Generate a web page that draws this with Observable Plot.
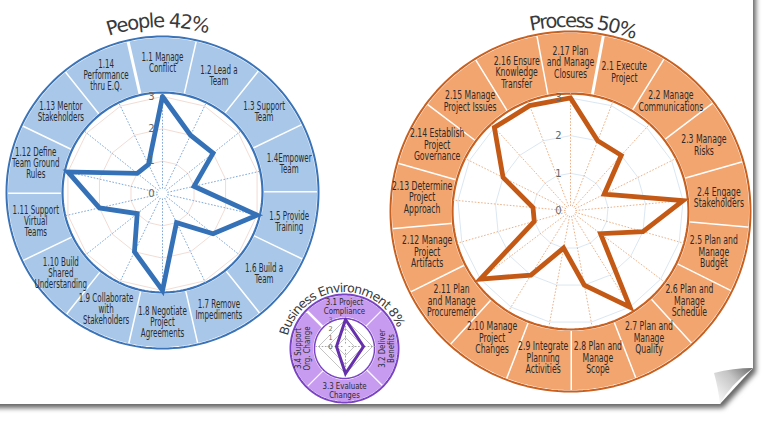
<!DOCTYPE html>
<html>
<head>
<meta charset="utf-8">
<script src="https://cdn.jsdelivr.net/npm/d3@7"></script>
<script src="https://cdn.jsdelivr.net/npm/@observablehq/plot@0.6"></script>
<style>
  html, body { margin: 0; padding: 0; background: #fff; }
  body { width: 768px; height: 422px; overflow: hidden; position: relative; }
  #wrap { position: absolute; left: 0; top: 0; width: 768px; height: 422px;
          filter: drop-shadow(3px 4px 2.5px rgba(0,0,0,0.6)); }
  #page { position: absolute; left: -10px; top: -10px; width: 763px; height: 414px; background: #fff;
          clip-path: polygon(0 0, 100% 0, 100% calc(100% - 36px), calc(100% - 33px) 100%, 0 100%); }
  #chart { position: absolute; left: 0; top: 0; }
  #curl { position: absolute; left: 0; top: 0; }
</style>
</head>
<body>
<div id="wrap"><div id="page"></div></div>
<div id="chart"></div>
<svg id="curl" width="768" height="422">
  <defs>
    <linearGradient id="cg" x1="720" y1="400" x2="752" y2="369" gradientUnits="userSpaceOnUse">
      <stop offset="0" stop-color="#f4f4f4"/>
      <stop offset="0.55" stop-color="#c4c4c4"/>
      <stop offset="1" stop-color="#6f6f6f"/>
    </linearGradient>
  </defs>
  <path d="M714,373 Q733,368 753,368 Q729,386 720,404 Q718,387 714,373 Z" fill="url(#cg)"/>
</svg>
<script>
// ---------- data ----------
const tickLabels = ["0", "1", "2", "3"];

const peopleLabels = [
  "1.1 Manage\nConflict", "1.2 Lead a\nTeam", "1.3 Support\nTeam", "1.4Empower\nTeam",
  "1.5 Provide\nTraining", "1.6 Build a\nTeam", "1.7 Remove\nImpediments",
  "1.8 Negotiate\nProject\nAgreements", "1.9 Collaborate\nwith\nStakeholders",
  "1.10 Build\nShared\nUnderstanding", "1.11 Support\nVirtual\nTeams",
  "1.12 Define\nTeam Ground\nRules", "1.13 Mentor\nStakeholders", "1.14\nPerformance\nthru E.Q."
];
const peopleValues = [3, 2, 2, 1, 3, 2, 1, 3, 2, 1, 2, 3, 1, 1];

const processLabels = [
  "2.1 Execute\nProject", "2.2 Manage\nCommunications", "2.3 Manage\nRisks",
  "2.4 Engage\nStakeholders", "2.5 Plan and\nManage\nBudget", "2.6 Plan and\nManage\nSchedule",
  "2.7 Plan and\nManage\nQuality", "2.8 Plan and\nManage\nScope", "2.9 Integrate\nPlanning\nActivities",
  "2.10 Manage\nProject\nChanges", "2.11 Plan\nand Manage\nProcurement", "2.12 Manage\nProject\nArtifacts",
  "2.13 Determine\nProject\nApproach", "2.14 Establish\nProject\nGovernance", "2.15 Manage\nProject Issues",
  "2.16 Ensure\nKnowledge\nTransfer", "2.17 Plan\nand Manage\nClosures"
];
const processValues = [2, 2, 1, 3, 2, 1, 3, 2, 1, 2, 3, 1, 1, 2, 3, 3, 3];

const businessLabels = ["3.1 Project\nCompliance", "3.2 Deliver\nBenefits", "3.3 Evaluate\nChanges", "3.4 Support\nOrg. Change"];
const businessValues = [3, 2, 3, 1];
const businessRotate = [0, -90, 0, -90];

const titles = ["People 42%", "Process 50%", "Business Environment 8%"];

// ---------- layout ----------
const FONT = "'DejaVu Sans', sans-serif";
const TAU = Math.PI * 2;
const polar = (cx, cy, r, a) => [cx + r * Math.sin(a), cy - r * Math.cos(a)];

function circleRows(key, cx, cy, r) {
  return d3.range(0, 181).map(j => { const [x, y] = polar(cx, cy, r, TAU * j / 180); return {key, x, y}; });
}

function radarMarks(s) {
  const n = s.labels.length, step = TAU / n;
  const ang = i => ((i + s.shift) % n) * step;
  const rv = d3.scaleLinear().domain([0, 3]).range([0, s.r3]);
  const rot = i => (s.rotate ? s.rotate[i] : 0);
  const wedges = [];
  s.labels.forEach((lab, i) => {
    const a0 = ang(i) - step / 2, a1 = ang(i) + step / 2, m = 24;
    for (let j = 0; j <= m; j++) { const [x, y] = polar(s.cx, s.cy, s.rOut, a0 + (a1 - a0) * j / m); wedges.push({k: i, x, y}); }
    for (let j = m; j >= 0; j--) { const [x, y] = polar(s.cx, s.cy, s.rIn, a0 + (a1 - a0) * j / m); wedges.push({k: i, x, y}); }
  });
  const grid = [];
  [1, 2, 3].forEach(level => {
    d3.range(n + 1).forEach(j => { const [x, y] = polar(s.rcx, s.rcy, rv(level), ang(j % n)); grid.push({level, x, y}); });
  });
  const poly = [...s.values, s.values[0]].map((v, j) => {
    const [x, y] = polar(s.rcx, s.rcy, rv(v), ang(j % n)); return {x, y};
  });
  // one text per label line, stacked along the label's own "down" direction
  const lines = s.labels.flatMap((lab, i) => {
    const [bx, by] = polar(s.cx, s.cy, s.rLab, ang(i));
    const parts = lab.split("\n"), th = rot(i) * Math.PI / 180;
    return parts.map((line, j) => {
      const o = (j - (parts.length - 1) / 2) * s.lineH;
      return {line, x: bx - o * Math.sin(th), y: by + o * Math.cos(th), r: rot(i)};
    });
  });
  return [
    Plot.line(wedges, {x: "x", y: "y", z: "k", fill: s.fill, stroke: "white", strokeWidth: s.divW}),
    Plot.line(circleRows("o", s.cx, s.cy, s.rOut), {x: "x", y: "y", stroke: s.dark, strokeWidth: 2}),
    Plot.line(circleRows("i", s.cx, s.cy, s.rIn), {x: "x", y: "y", fill: "white", stroke: s.dark, strokeWidth: s.inW}),
    Plot.line(grid, {x: "x", y: "y", z: "level", stroke: s.grid, strokeWidth: 0.9}),
    Plot.link(s.labels, {
      x1: (d, i) => polar(s.rcx, s.rcy, s.r0, ang(i))[0], y1: (d, i) => polar(s.rcx, s.rcy, s.r0, ang(i))[1],
      x2: (d, i) => polar(s.rcx, s.rcy, s.rIn, ang(i))[0], y2: (d, i) => polar(s.rcx, s.rcy, s.rIn, ang(i))[1],
      stroke: s.spoke, strokeWidth: 0.9, strokeDasharray: "1.6,1.6"
    }),
    Plot.line(poly, {x: "x", y: "y", stroke: s.poly, strokeWidth: s.polyW, strokeLinejoin: "miter", strokeMiterlimit: 6}),
    Plot.text(tickLabels, {
      x: () => s.rcx + s.tickDx, y: d => s.rcy - rv(+d), text: d => d,
      fontSize: s.tickSize, fill: "#666", fontFamily: FONT
    }),
    Plot.text(lines, {
      x: "x", y: "y", text: "line", rotate: "r",
      fontSize: s.fontSize, fill: "#2b2b2b", fontFamily: FONT
    })
  ];
}

const people = {
  id: "people", labels: peopleLabels, values: peopleValues, shift: 0,
  cx: 162, cy: 192, rcx: 162, rcy: 193, r3: 97, r0: 5, rIn: 100, rOut: 156, rLab: 130,
  fill: "#a9c8e9", dark: "#3a73b7", poly: "#3571b7", spoke: "#6f9dd6", grid: "#f0d8cf",
  divW: 3, inW: 2.2, polyW: 4.8, tickDx: -11, tickSize: 10, fontSize: 11.5, lineH: 11, squeeze: 0.62
};
const process = {
  id: "process", labels: processLabels, values: processValues, shift: 1,
  cx: 570, cy: 211, rcx: 570, rcy: 210.5, r3: 113, r0: 5, rIn: 118, rOut: 180, rLab: 149,
  fill: "#f2a56f", dark: "#c8601f", poly: "#c45916", spoke: "#eaa87c", grid: "#d6e4f1",
  divW: 3, inW: 2.2, polyW: 4.8, tickDx: -12, tickSize: 10, fontSize: 11.5, lineH: 11.5, squeeze: 0.67
};
const business = {
  id: "business", labels: businessLabels, values: businessValues, shift: 0, rotate: businessRotate,
  cx: 344, cy: 348, rcx: 345, rcy: 346, r3: 27, r0: 3, rIn: 30, rOut: 54, rLab: 42,
  fill: "#c79bef", dark: "#7a43c3", poly: "#6630ad", spoke: "#9a9a9a", grid: "#bdbdbd",
  divW: 2.5, inW: 1.5, polyW: 3, tickDx: -15, tickSize: 6.5, fontSize: 9.5, lineH: 9, squeeze: 0.74
};
const charts = [people, process, business];

const plot = Plot.plot({
  width: 768, height: 422, margin: 0,
  x: {domain: [0, 768], range: [0, 768], axis: null},
  y: {domain: [0, 422], range: [0, 422], axis: null},
  style: {background: "transparent", overflow: "visible"},
  marks: charts.flatMap(radarMarks)
});
document.getElementById("chart").appendChild(plot);

// condensed look for the segment labels: compress each line along its reading direction
const textGroups = plot.querySelectorAll('g[aria-label="text"]');
charts.forEach((s, k) => {
  const group = textGroups[2 * k + 1];
  if (!group) return;
  group.querySelectorAll("text").forEach(t => {
    const len = t.getComputedTextLength();
    t.setAttribute("textLength", (len * s.squeeze).toFixed(2));
    t.setAttribute("lengthAdjust", "spacingAndGlyphs");
  });
});

// curved titles
const svg = d3.select(plot);
const defs = svg.append("defs");
function arcTitle(id, cx, cy, r, aMidDeg, spanDeg, text, size, spacing) {
  const am = aMidDeg * Math.PI / 180, sp = spanDeg * Math.PI / 180;
  const [x0, y0] = polar(cx, cy, r, am - sp), [x1, y1] = polar(cx, cy, r, am + sp);
  defs.append("path").attr("id", id).attr("d", `M${x0},${y0} A${r},${r} 0 ${2 * sp > Math.PI ? 1 : 0} 1 ${x1},${y1}`);
  svg.append("text").attr("font-size", size).attr("font-family", FONT).attr("fill", "#3a3a3a")
    .attr("letter-spacing", spacing)
    .append("textPath").attr("href", "#" + id).attr("startOffset", "50%").attr("text-anchor", "middle").text(text);
}
arcTitle("t-people", 162, 192, 165, -1.5, 60, titles[0], 19.5, -1.5);
arcTitle("t-process", 568, 211, 184, 4.5, 60, titles[1], 19.5, -1.8);
arcTitle("t-business", 344, 350, 58, -4.5, 85, titles[2], 12.5, -0.8);
</script>
</body>
</html>
